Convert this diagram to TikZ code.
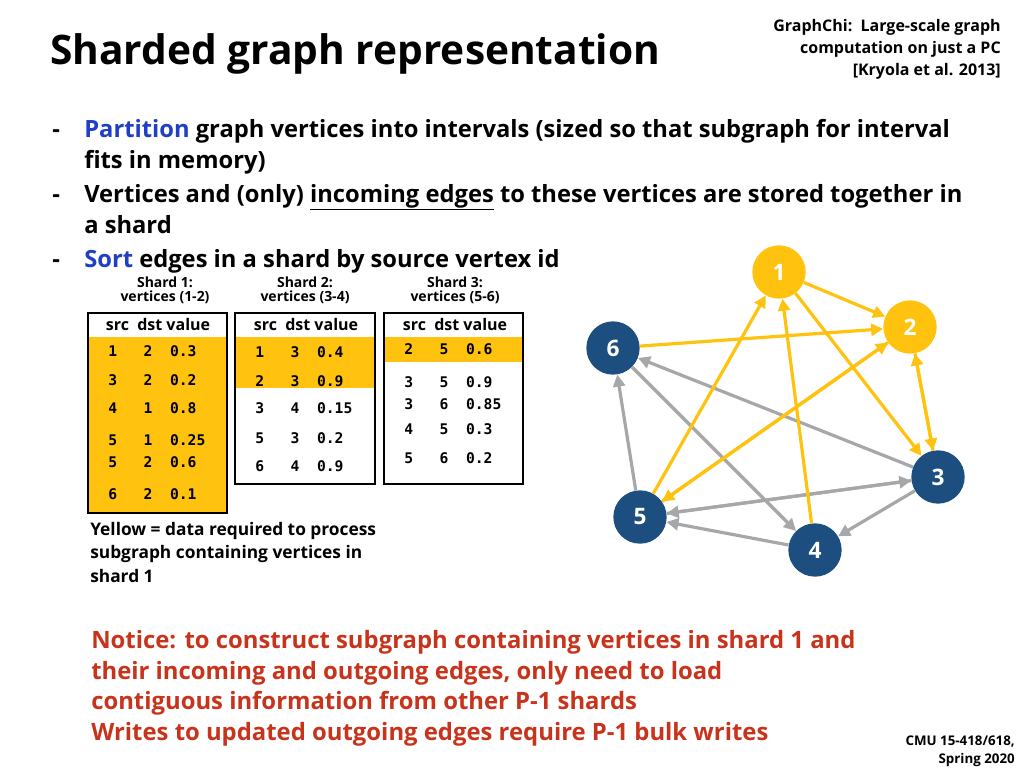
\documentclass[tikz,border=0pt]{standalone}
\usepackage{fontspec}
\setmainfont{Open Sans}
\setmonofont{DejaVu Sans Mono}
\usetikzlibrary{arrows.meta}
\definecolor{gold}{HTML}{FFC20E}
\definecolor{navy}{HTML}{1C4E80}
\definecolor{edgegray}{HTML}{A5A7A8}
\definecolor{titleblue}{HTML}{1F3FC4}
\definecolor{noticered}{HTML}{C8331B}
\tikzset{
  txt/.style={anchor=base west,inner sep=0pt,font=\bfseries\fontsize{17.8}{20}\selectfont},
  vert/.style={circle,minimum size=40pt,inner sep=0pt,text=white,font=\bfseries\fontsize{17}{20}\selectfont},
  yv/.style={vert,fill=gold},
  bv/.style={vert,fill=navy},
  yedge/.style={draw=gold,line width=2.4pt,-{Triangle[length=9pt,width=9pt]}},
  gedge/.style={draw=edgegray,line width=2.4pt,-{Triangle[length=9pt,width=9pt]}},
  cell/.style={anchor=base west,inner sep=0pt,font=\ttfamily\bfseries\fontsize{11}{13}\selectfont},
  hdr/.style={anchor=base,inner sep=0pt,font=\bfseries\fontsize{12}{14}\selectfont},
  shardcap/.style={anchor=north,inner sep=0pt,align=center,font=\bfseries\fontsize{10.5}{10.5}\selectfont},
}
\begin{document}
\begin{tikzpicture}[x=0.75pt,y=-0.75pt]
\useasboundingbox (0,0) rectangle (1024,768);

% title and reference
\node[anchor=base west,inner sep=0pt,font=\bfseries\fontsize{30.5}{34}\selectfont] (title) at (50,64) {Sharded graph representation};
\node[anchor=base east,inner sep=0pt,font=\bfseries\fontsize{12}{14}\selectfont] (ref1) at (1001,31) {GraphChi:\ \ Large-scale graph};
\node[anchor=base east,inner sep=0pt,font=\bfseries\fontsize{12}{14}\selectfont] (ref2) at (1001,53) {computation on just a PC};
\node[anchor=base east,inner sep=0pt,font=\bfseries\fontsize{12}{14}\selectfont] (ref3) at (1001,75) {[Kryola et al. 2013]};

% bullets
\node[txt] (d1) at (52,137) {-};
\node[txt] (d2) at (52,202) {-};
\node[txt] (d3) at (52,267) {-};
\node[txt] (b1) at (84,137) {\textcolor{titleblue}{Partition} graph vertices into intervals (sized so that subgraph for interval};
\node[txt] (b1b) at (84,168) {fits in memory)};
\node[txt] (b2) at (84,202) {Vertices and (only) \underline{incoming edges} to these vertices are stored together in};
\node[txt] (b2b) at (84,233) {a shard};
\node[txt] (b3) at (84,267) {\textcolor{titleblue}{Sort} edges in a shard by source vertex id};

% shard captions
\node[shardcap] (c1) at (165,277) {Shard 1:\\vertices (1-2)};
\node[shardcap] (c2) at (305,277) {Shard 2:\\vertices (3-4)};
\node[shardcap] (c3) at (455,277) {Shard 3:\\vertices (5-6)};

% shard tables
\fill[gold] (88,337) rectangle (227,513);
\fill[gold] (235,337) rectangle (375,388);
\fill[gold] (384,337) rectangle (523,362);
\draw[line width=2pt] (88,313) rectangle (227,513);
\draw[line width=2pt] (235,313) rectangle (375,484);
\draw[line width=2pt] (384,313) rectangle (523,484);
\node[hdr] (h1) at (158,330) {src\ \ dst value};
\node[hdr] (h2) at (306,330) {src\ \ dst value};
\node[hdr] (h3) at (455,330) {src\ \ dst value};
\foreach \s/\d/\v/\y in {1/2/0.3/356,3/2/0.2/385,4/1/0.8/413,5/1/0.25/445,5/2/0.6/467,6/2/0.1/499}
  \node[cell] at (108,\y) {\s\ \ \ \d\ \ \v};
\foreach \s/\d/\v/\y in {1/3/0.4/357,2/3/0.9/386,3/4/0.15/413,5/3/0.2/443,6/4/0.9/471}
  \node[cell] at (255,\y) {\s\ \ \ \d\ \ \v};
\foreach \s/\d/\v/\y in {2/5/0.6/354,3/5/0.9/387,3/6/0.85/409,4/5/0.3/434,5/6/0.2/463}
  \node[cell] at (404,\y) {\s\ \ \ \d\ \ \v};

\node[anchor=north west,inner sep=0pt,align=left,font=\bfseries\fontsize{13}{17.5}\selectfont] (note) at (90,522) {Yellow = data required to process\\subgraph containing vertices in\\shard 1};

% graph
\node[yv] (v1) at (779,272) {1};
\node[yv] (v2) at (910,327) {2};
\node[bv] (v6) at (613,348) {6};
\node[bv] (v3) at (938,477) {3};
\node[bv] (v5) at (640,517) {5};
\node[bv] (v4) at (815,550) {4};

\draw[gedge] (v3) -- (v6);
\draw[gedge] (v5) -- (v6);
\draw[gedge] (v6) -- (v4);
\draw[gedge] (v3) -- (v5);
\draw[gedge] (v5) -- (v3);
\draw[gedge] (v4) -- (v5);
\draw[gedge] (v3) -- (v4);
\draw[yedge] (v1) -- (v2);
\draw[yedge] (v1) -- (v3);
\draw[yedge] (v2) -- (v3);
\draw[yedge] (v3) -- (v2);
\draw[yedge] (v6) -- (v2);
\draw[yedge] (v5) -- (v1);
\draw[yedge] (v4) -- (v1);
\draw[yedge] (v5) -- (v2);
\draw[yedge] (v2) -- (v5);

% notice
\node[anchor=north west,inner sep=0pt,align=left,text=noticered,font=\bfseries\fontsize{17.9}{23}\selectfont] (notice) at (91,630) {Notice: to construct subgraph containing vertices in shard 1 and\\their incoming and outgoing edges, only need to load\\contiguous information from other P-1 shards\\Writes to updated outgoing edges require P-1 bulk writes};

\node[anchor=north east,inner sep=0pt,align=right,font=\bfseries\fontsize{10}{13}\selectfont] (course) at (1015,736) {CMU 15-418/618,\\Spring 2020};
\end{tikzpicture}
\end{document}
